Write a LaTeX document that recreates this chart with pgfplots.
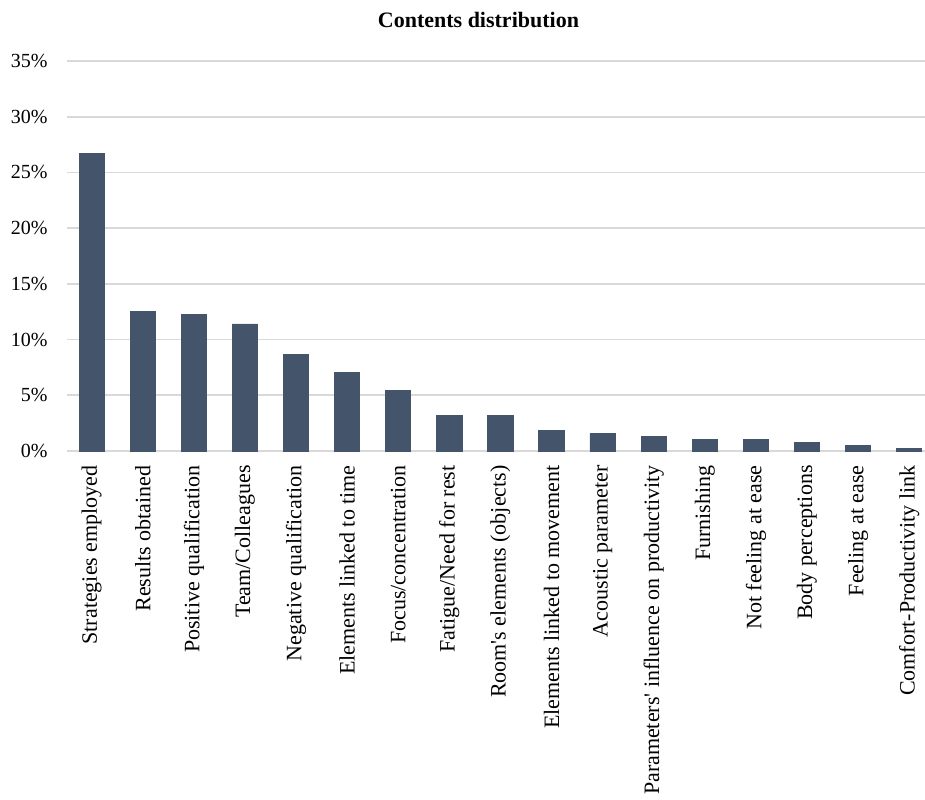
\documentclass[border=0pt]{standalone}
\usepackage{pgfplots}
\pgfplotsset{compat=1.18}
\usepackage{fontspec}
\setmainfont{Liberation Serif}
\definecolor{barc}{HTML}{44546A}
\definecolor{gridc}{HTML}{D9D9D9}
\begin{document}
\begin{tikzpicture}
\path[use as bounding box] (-33.5pt,-174pt) rectangle (429pt,225.5pt);
\begin{axis}[
  at={(0pt,0pt)}, anchor=south west,
  scale only axis, width=429pt, height=195pt,
  xmin=-0.483, xmax=16.31,
  ymin=0, ymax=35,
  axis y line*=left,
  y axis line style={draw=none},
  axis x line*=bottom,
  x axis line style={gridc, line width=0.8pt, -},
  ybar, bar width=0.495,
  ytick={0,5,10,15,20,25,30,35},
  yticklabels={0\%,5\%,10\%,15\%,20\%,25\%,30\%,35\%},
  ymajorgrids, grid style={gridc, line width=0.8pt},
  major tick length=0pt,
  xtick={0,...,16},
  xticklabels={Strategies employed, Results obtained, Positive qualification, Team/Colleagues, Negative qualification, Elements linked to time, Focus/concentration, Fatigue/Need for rest, Room\textquotesingle s elements (objects), Elements linked to movement, Acoustic parameter, Parameters\textquotesingle\ influence on productivity, Furnishing, Not feeling at ease, Body perceptions, Feeling at ease, Comfort-Productivity link},
  xticklabel style={rotate=90, anchor=east, inner sep=0pt, font=\fontsize{11pt}{13pt}\selectfont},
  xticklabel shift=7pt,
  yticklabel style={anchor=east, inner sep=0pt, font=\fontsize{10pt}{12pt}\selectfont},
  yticklabel shift=9.5pt,
  clip=false,
]
\addplot[fill=barc, draw=barc] coordinates {
(0,26.7) (1,12.5) (2,12.25) (3,11.4) (4,8.7) (5,7.04) (6,5.43) (7,3.2) (8,3.2)
(9,1.85) (10,1.58) (11,1.31) (12,1.05) (13,1.05) (14,0.78) (15,0.51) (16,0.24)};
\end{axis}
\node[font=\bfseries\fontsize{11pt}{13pt}\selectfont] at (205.75pt,215.5pt) {Contents distribution};
\end{tikzpicture}
\end{document}
